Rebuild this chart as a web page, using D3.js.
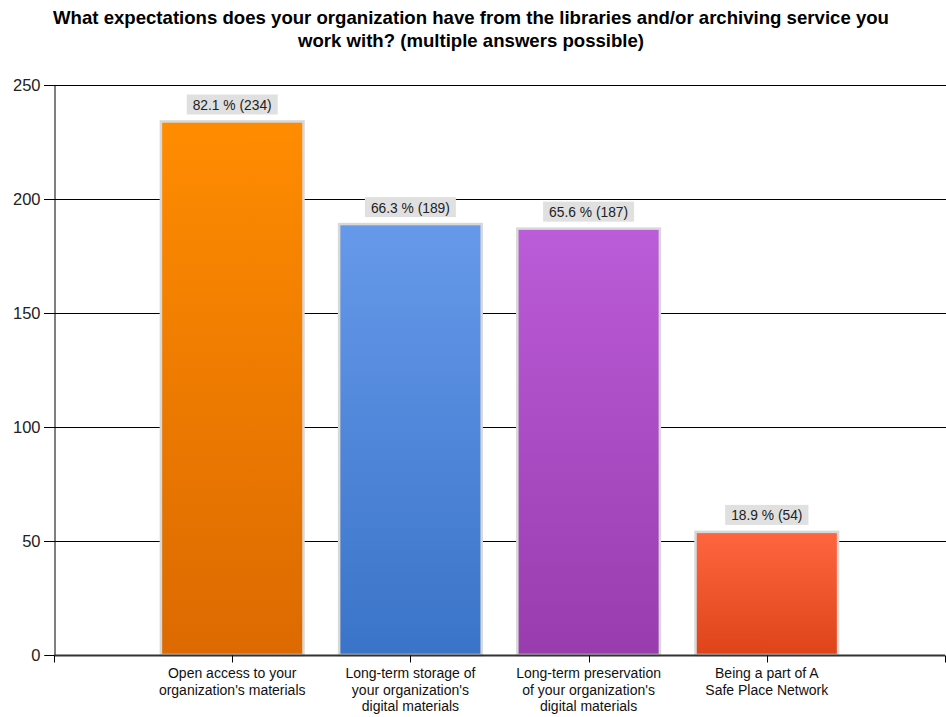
<!DOCTYPE html>
<html>
<head>
<meta charset="utf-8">
<script src="https://cdn.jsdelivr.net/npm/d3@7/dist/d3.min.js"></script>
<style>
  html, body { margin: 0; padding: 0; background: #fff; }
  svg { display: block; font-family: "Liberation Sans", Arial, sans-serif; }
</style>
</head>
<body>
<svg id="chart" width="946" height="717"></svg>
<script>
// Survey answers
const categories = [
  ["Open access to your", "organization's materials"],
  ["Long-term storage of", "your organization's", "digital materials"],
  ["Long-term preservation", "of your organization's", "digital materials"],
  ["Being a part of A", "Safe Place Network"]
];
const counts = [234, 189, 187, 54];
const percents = [82.1, 66.3, 65.6, 18.9];
const yTicks = [0, 50, 100, 150, 200, 250];
const gradients = [
  ["#ff8c00", "#dc6a00"],
  ["#6699ea", "#3a74c8"],
  ["#bb5cd8", "#983cae"],
  ["#ff6640", "#de4418"]
];
const titleLines = [
  "What expectations does your organization have from the libraries and/or archiving service you",
  "work with? (multiple answers possible)"
];

const svg = d3.select("#chart");
const margin = { left: 54, right: 1, top: 85, bottom: 62 };
const W = 946, H = 717;

const x = d3.scalePoint()
  .domain(d3.range(categories.length))
  .range([margin.left, W - margin.right])
  .padding(1);
const y = d3.scaleLinear().domain([0, 250]).range([H - margin.bottom, margin.top]);
const barW = x.step() * 0.8;

// gradients
const defs = svg.append("defs");
gradients.forEach((g, i) => {
  const lg = defs.append("linearGradient").attr("id", "g" + i)
    .attr("x1", 0).attr("y1", 0).attr("x2", 0).attr("y2", 1);
  lg.append("stop").attr("offset", "0%").attr("stop-color", g[0]);
  lg.append("stop").attr("offset", "100%").attr("stop-color", g[1]);
});

// title
svg.append("g").selectAll("text").data(titleLines).join("text")
  .attr("x", W / 2 - 2).attr("y", (d, i) => 24 + i * 23)
  .attr("text-anchor", "middle")
  .attr("font-size", 18.6).attr("font-weight", "bold").attr("fill", "#000")
  .text(d => d);

// horizontal grid lines (extend over the tick marks)
svg.append("g").selectAll("line").data(yTicks.filter(t => t > 0)).join("line")
  .attr("x1", margin.left - 10).attr("x2", W)
  .attr("y1", d => Math.round(y(d)) + 0.5).attr("y2", d => Math.round(y(d)) + 0.5)
  .attr("stroke", "#000").attr("stroke-width", 1);

// y axis
const yAxis = svg.append("g")
  .attr("transform", `translate(${margin.left + 0.5},0)`)
  .call(d3.axisLeft(y).tickValues(yTicks).tickSize(10).tickPadding(4));
yAxis.select(".domain").attr("stroke", "#000");
yAxis.selectAll(".tick text").attr("font-size", 16.5).attr("fill", "#222")
  .attr("font-family", "'Liberation Sans', Arial, sans-serif");

// bars
const bars = svg.append("g").selectAll("g").data(counts).join("g");
bars.append("rect")
  .attr("x", (d, i) => x(i) - barW / 2)
  .attr("y", d => y(d))
  .attr("width", barW)
  .attr("height", d => y(0) - y(d))
  .attr("fill", (d, i) => `url(#g${i})`)
  .attr("stroke", "#d8d8d8").attr("stroke-width", 2.5);

// value labels
bars.each(function (d, i) {
  const g = d3.select(this);
  const label = `${percents[i]} % (${d})`;
  const t = g.append("text")
    .attr("x", x(i)).attr("y", y(d) - 11.5)
    .attr("text-anchor", "middle")
    .attr("font-size", 13.8).attr("fill", "#222")
    .text(label);
  const bb = t.node().getBBox();
  g.insert("rect", "text")
    .attr("x", bb.x - 6).attr("y", y(d) - 27)
    .attr("width", bb.width + 12).attr("height", 20)
    .attr("fill", "#e0e0e0");
});

// x axis
const axisY = Math.round(y(0)) + 0.5;
svg.append("line")
  .attr("x1", margin.left).attr("x2", W - margin.right)
  .attr("y1", axisY).attr("y2", axisY)
  .attr("stroke", "#333").attr("stroke-width", 2);
svg.append("g").selectAll("line").data(d3.range(categories.length)).join("line")
  .attr("x1", i => Math.round(x(i)) + 0.5).attr("x2", i => Math.round(x(i)) + 0.5)
  .attr("y1", axisY).attr("y2", axisY + 7)
  .attr("stroke", "#000");
[margin.left, W - margin.right].forEach(px => {
  svg.append("line")
    .attr("x1", px + 0.5).attr("x2", px + 0.5)
    .attr("y1", axisY).attr("y2", axisY + 7)
    .attr("stroke", "#000");
});

// category labels
svg.append("g").selectAll("text").data(categories).join("text")
  .attr("text-anchor", "middle")
  .attr("font-size", 14).attr("fill", "#111")
  .each(function (lines, i) {
    d3.select(this).selectAll("tspan").data(lines).join("tspan")
      .attr("x", x(i)).attr("y", (d, j) => 678 + j * 16.7)
      .text(d => d);
  });
</script>
</body>
</html>
